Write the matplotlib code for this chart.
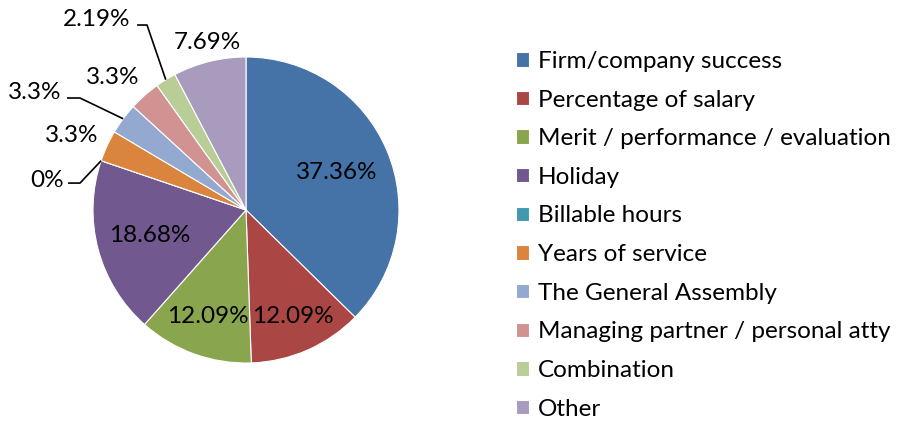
import matplotlib.pyplot as plt
import numpy as np

plt.rcParams['font.family'] = ['Lato', 'DejaVu Sans']

categories = ['Firm/company success', 'Percentage of salary',
              'Merit / performance / evaluation', 'Holiday', 'Billable hours',
              'Years of service', 'The General Assembly',
              'Managing partner / personal atty', 'Combination', 'Other']
values = [37.36, 12.09, 12.09, 18.68, 0, 3.3, 3.3, 3.3, 2.19, 7.69]
labels = ['37.36%', '12.09%', '12.09%', '18.68%', '0%', '3.3%', '3.3%', '3.3%', '2.19%', '7.69%']
colors = ['#4572A7', '#AA4643', '#89A54E', '#71588F', '#4198AF',
          '#DB843D', '#93A9CF', '#D19392', '#B9CD96', '#A99BBD']

# label radius (fraction of pie radius) for the inside labels
inside_r = {0: 0.64, 1: 0.76, 2: 0.74, 3: 0.65}
# label positions for the small slices, in pie-radius units
outside_pos = {4: (-1.30, 0.19), 5: (-1.14, 0.49), 6: (-1.38, 0.765),
               7: (-0.87, 0.863), 8: (-0.975, 1.242), 9: (-0.255, 1.092)}
leader = {4: (-1.163, -1.085, 0.176), 6: (-1.17, -1.085, 0.732),
          8: (-0.712, -0.647, 1.209)}

fig = plt.figure(figsize=(9, 4.25), dpi=100)
W, H = 900, 425
cx, cy, R = 246, 215, 153
ax = fig.add_axes([(cx - R) / W, (cy - R) / H, 2 * R / W, 2 * R / H])

wedges, _ = ax.pie(values, colors=colors, startangle=90, counterclock=False,
                   radius=1, wedgeprops=dict(edgecolor='white', linewidth=0.8))
ax.set_xlim(-1, 1)
ax.set_ylim(-1, 1)
ax.set_aspect('equal')
ax.axis('off')

fs = 17.5
for i, w in enumerate(wedges):
    mid = np.deg2rad((w.theta1 + w.theta2) / 2)
    if i in inside_r:
        r = inside_r[i]
        ax.text(r * np.cos(mid), r * np.sin(mid), labels[i], ha='center', va='center',
                fontsize=fs, color='black')
    else:
        x, y = outside_pos[i]
        ax.text(x, y, labels[i], ha='center', va='center', fontsize=fs,
                color='black', clip_on=False)
        if i in leader:
            x0, x1, ly = leader[i]
            ax.plot([x0, x1, np.cos(mid)], [ly, ly, np.sin(mid)], color='black',
                    lw=1.2, clip_on=False, solid_capstyle='butt')

fig.legend(wedges, categories, loc='upper left',
           bbox_to_anchor=(516 / W, 1 - 51 / H), frameon=False, fontsize=fs,
           handlelength=0.535, handleheight=0.535, handletextpad=0.37,
           labelspacing=0.725, borderpad=0, borderaxespad=0)

fig.savefig('out.png', dpi=100)
